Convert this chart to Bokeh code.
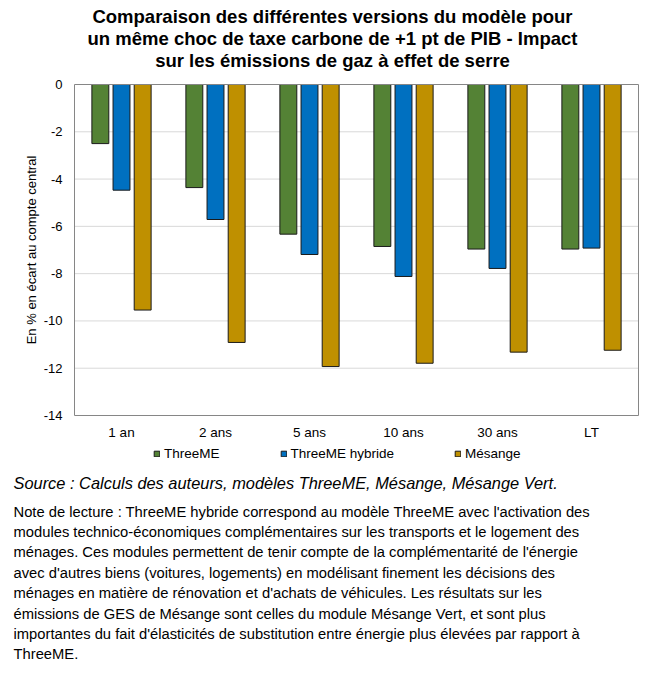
import math
from bokeh.plotting import figure
from bokeh.models import Range1d, Label, Legend, LegendItem, ColumnDataSource
from bokeh.core.properties import value
from bokeh.embed import file_html
from bokeh.resources import INLINE

categories = ["1 an", "2 ans", "5 ans", "10 ans", "30 ans", "LT"]
threeme = [-2.50, -4.36, -6.33, -6.85, -6.96, -6.96]
threeme_hybride = [-4.47, -5.71, -7.19, -8.12, -7.78, -6.92]
mesange = [-9.54, -10.91, -11.93, -11.79, -11.32, -11.24]
series_names = ["ThreeME", "ThreeME hybride", "Mésange"]
y_ticks = [-14, -12, -10, -8, -6, -4, -2, 0]
y_tick_labels = ["-14", "-12", "-10", "-8", "-6", "-4", "-2", "0"]

title_lines = [
    "Comparaison des différentes versions du modèle pour",
    "un même choc de taxe carbone de +1 pt de PIB - Impact",
    "sur les émissions de gaz à effet de serre",
]
y_label = "En % en écart au compte central"
source_text = "Source : Calculs des auteurs, modèles ThreeME, Mésange, Mésange Vert."
note_lines = [
    "Note de lecture : ThreeME hybride correspond au modèle ThreeME avec l'activation des",
    "modules technico-économiques complémentaires sur les transports et le logement des",
    "ménages. Ces modules permettent de tenir compte de la complémentarité de l'énergie",
    "avec d'autres biens (voitures, logements) en modélisant finement les décisions des",
    "ménages en matière de rénovation et d'achats de véhicules. Les résultats sur les",
    "émissions de GES de Mésange sont celles du module Mésange Vert, et sont plus",
    "importantes du fait d'élasticités de substitution entre énergie plus élevées par rapport à",
    "ThreeME.",
]

FONT = "Liberation Sans"
W, H = 669, 676
# plot-area placement in canvas pixels
FL, FR, FT, FB = 74, 638, 84, 415
Y_MIN, Y_MAX = -14, 0
N = len(categories)
ppu_x = (FR - FL) / N
ppu_y = (FB - FT) / (Y_MAX - Y_MIN)

x_range = Range1d(-FL / ppu_x, N + (W - FR) / ppu_x)
y_range = Range1d(Y_MAX - (H - FT) / ppu_y, Y_MAX + FT / ppu_y)

p = figure(width=W, height=H, x_range=x_range, y_range=y_range,
           output_backend="svg", toolbar_location=None,
           min_border=0, min_border_left=0, min_border_right=0,
           min_border_top=0, min_border_bottom=0)
p.axis.visible = False
p.grid.visible = False
p.outline_line_color = None
p.background_fill_color = "white"
p.border_fill_color = "white"

xc = [i + 0.5 for i in range(N)]

# gridlines
inner = [t for t in y_ticks if Y_MIN < t < Y_MAX]
p.segment(x0=[0] * len(inner), x1=[N] * len(inner), y0=inner, y1=inner,
          line_color="#d9d9d9", line_width=1)

src = ColumnDataSource(dict(x=xc, a=threeme, b=threeme_hybride, c=mesange))
colors = ["#548235", "#0070C0", "#BF9000"]
offsets = [-0.225, 0.0, 0.225]
cols = ["a", "b", "c"]
renderers = []
for col, off, color in zip(cols, offsets, colors):
    r = p.vbar(x=[v + off for v in xc], top=0, bottom=src.data[col], width=0.18,
               fill_color=color, line_color="#1a1a1a", line_width=1)
    renderers.append(r)

# plot-area box
p.quad(left=[0], right=[N], top=[Y_MAX], bottom=[Y_MIN], fill_color=None,
       line_color="#868686", line_width=1)

# y tick labels
p.text(x=[0] * len(y_ticks), y=y_ticks, text=y_tick_labels, x_offset=-12,
       text_align="right", text_baseline="middle", text_font=value(FONT),
       text_font_size="13px", text_color="#000000")
# category labels
p.text(x=xc, y=[Y_MIN] * N, text=categories, y_offset=17,
       text_align="center", text_baseline="middle", text_font=value(FONT),
       text_font_size="13.5px", text_color="#000000")
# y axis label
p.text(x=[0], y=[(Y_MIN + Y_MAX) / 2], text=[y_label], x_offset=-43, angle=math.pi / 2,
       text_align="center", text_baseline="middle", text_font=value(FONT),
       text_font_size="13px", text_color="#000000")

items = [LegendItem(label=n, renderers=[r]) for n, r in zip(series_names, renderers)]
legend = Legend(items=items, orientation="horizontal", location=(153, H - 461),
                glyph_width=7, glyph_height=7, label_standoff=4, spacing=60,
                padding=0, margin=0, label_height=14,
                label_text_font=FONT, label_text_font_size="13.5px",
                label_text_color="#000000",
                background_fill_alpha=0, border_line_alpha=0)
p.add_layout(legend)


def sy(y):
    return H - y


for i, t in enumerate(title_lines):
    p.add_layout(Label(x=332, y=sy(15.5 + 22.2 * i), x_units="screen", y_units="screen",
                       text=t, text_align="center", text_baseline="middle",
                       text_font=FONT, text_font_size="18.5px", text_font_style="bold",
                       text_color="#000000"))

p.add_layout(Label(x=13, y=sy(482), x_units="screen", y_units="screen",
                   text=source_text, text_align="left", text_baseline="middle",
                   text_font=FONT, text_font_size="16.4px", text_font_style="italic",
                   text_color="#000000"))

for i, t in enumerate(note_lines):
    p.add_layout(Label(x=13, y=sy(511 + 20.4 * i), x_units="screen", y_units="screen",
                       text=t, text_align="left", text_baseline="middle",
                       text_font=FONT, text_font_size="14.75px",
                       text_color="#000000"))

open("out.html", "w").write(file_html(p, INLINE))
